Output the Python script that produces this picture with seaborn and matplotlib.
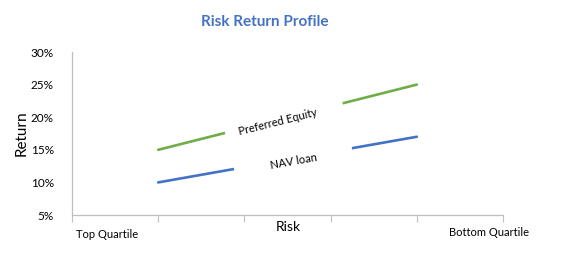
import numpy as np
import pandas as pd
import matplotlib
matplotlib.use("Agg")
import matplotlib.pyplot as plt
import seaborn as sns
from matplotlib.ticker import PercentFormatter

# ---- data ----
risk_points = [1, 4]
preferred_equity = [0.15, 0.25]
nav_loan = [0.10, 0.17]
series_names = ["Preferred Equity", "NAV loan"]
y_ticks = [0.05, 0.10, 0.15, 0.20, 0.25, 0.30]
x_end_labels = ["Top Quartile", "Bottom Quartile"]

df = pd.DataFrame({
    "Risk": risk_points * 2,
    "Return": preferred_equity + nav_loan,
    "Series": [series_names[0]] * 2 + [series_names[1]] * 2,
})

sns.set_theme(style="white")
plt.rcParams["font.family"] = ["Lato", "DejaVu Sans"]

GREEN = "#70AD47"
BLUE = "#4472C4"
GRAY = "#BFBFBF"

fig = plt.figure(figsize=(5.77, 2.71), dpi=100)
ax = fig.add_axes([72 / 577, 1 - 215 / 271, (503 - 72) / 577, (215 - 52) / 271])

sns.lineplot(data=df, x="Risk", y="Return", hue="Series",
             palette={series_names[0]: GREEN, series_names[1]: BLUE},
             linewidth=1.9, legend=False, ax=ax, zorder=2)

ax.set_xlim(0, 5)
ax.set_ylim(0.05, 0.30)
ax.set_yticks(y_ticks)
ax.yaxis.set_major_formatter(PercentFormatter(1.0, decimals=0))
ax.set_xticks(range(0, 6))
ax.set_xticklabels([])
ax.tick_params(axis="x", which="both", direction="out", length=5, width=0.8,
               color=GRAY, bottom=True)
ax.tick_params(axis="y", length=0, labelsize=8.5, pad=13, labelcolor="#000000")

for s in ["top", "right"]:
    ax.spines[s].set_visible(False)
for s in ["left", "bottom"]:
    ax.spines[s].set_color(GRAY)
    ax.spines[s].set_linewidth(0.9)
ax.grid(False)

ax.set_xlabel("")
ax.set_ylabel("Return", fontsize=11, color="#000000")
ax.yaxis.set_label_coords(-(72 - 29) / 431, 0.5)

# Inline labels with white boxes masking the lines
fig.canvas.draw()

def line_angle(xs, ys):
    p0 = ax.transData.transform((xs[0], ys[0]))
    p1 = ax.transData.transform((xs[1], ys[1]))
    return np.degrees(np.arctan2(p1[1] - p0[1], p1[0] - p0[0]))

def interp(xs, ys, x):
    return ys[0] + (x - xs[0]) * (ys[1] - ys[0]) / (xs[1] - xs[0])

labels = [
    (series_names[0], preferred_equity, 2.465, " " * 4, " " * 9, -0.004),
    (series_names[1], nav_loan, 2.57, " " * 12, " " * 12, -0.005),
]
for name, ys, xpos, lpad, rpad, dy in labels:
    ang = line_angle(risk_points, ys)
    ax.text(xpos, interp(risk_points, ys, xpos) + dy, lpad + name + rpad,
            rotation=ang, rotation_mode="anchor", ha="center", va="center",
            fontsize=8, color="#000000", zorder=5,
            bbox=dict(boxstyle="square,pad=0.15", fc="white", ec="none"))

fig.text(265 / 577, 1 - 22 / 271, "Risk Return Profile", ha="center", va="center",
         fontsize=11, fontweight="bold", color=BLUE)
fig.text(288 / 577, 1 - 227 / 271, "Risk", ha="center", va="center",
         fontsize=10, color="#000000")
fig.text(76 / 577, 1 - 235 / 271, x_end_labels[0], ha="left", va="center",
         fontsize=8, color="#000000")
fig.text(449 / 577, 1 - 233 / 271, x_end_labels[1], ha="left", va="center",
         fontsize=8, color="#000000")

fig.savefig("out.png", dpi=100, facecolor="white")
